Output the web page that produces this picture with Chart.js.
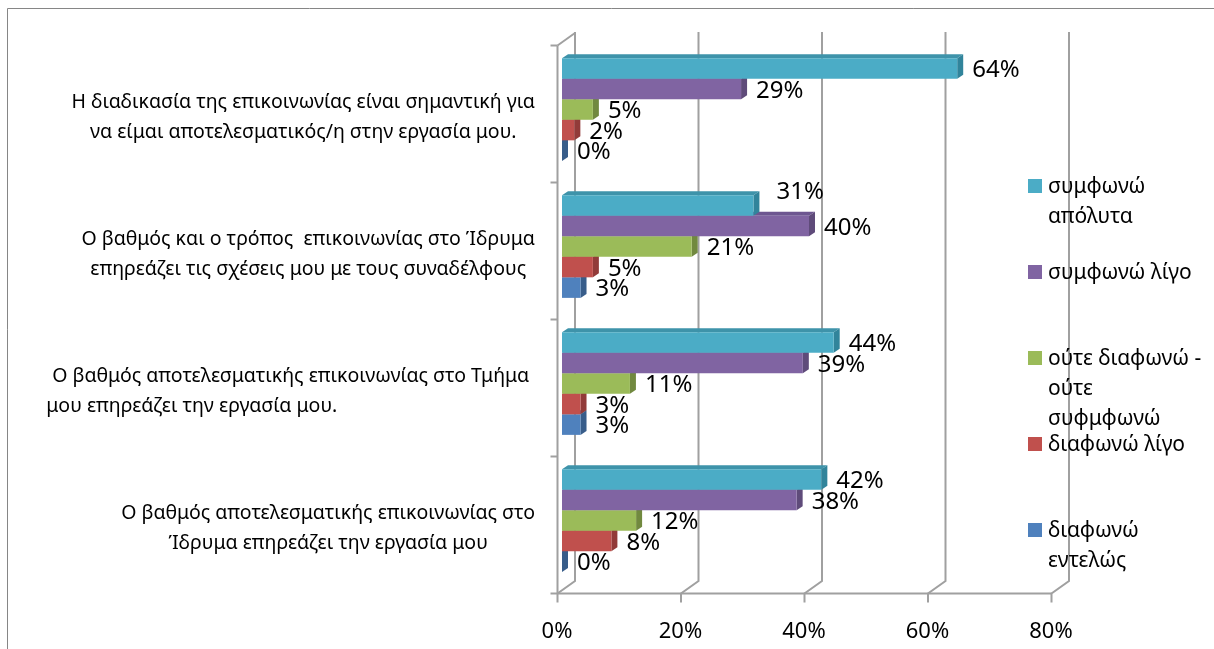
<!DOCTYPE html>
<html>
<head>
<meta charset="utf-8">
<script src="https://cdn.jsdelivr.net/npm/chart.js@4.4.1/dist/chart.umd.min.js"></script>
<style>
  body { margin: 0; background: #fff; }
  canvas { display: block; }
</style>
</head>
<body>
<canvas id="chart" width="1214" height="649"></canvas>
<script>
// statements, top to bottom (each one wraps onto two lines)
let categories = [
    ['Η διαδικασία της επικοινωνίας είναι σημαντική για', 'να είμαι αποτελεσματικός/η στην εργασία μου.'],
    ['Ο βαθμός και ο τρόπος  επικοινωνίας στο Ίδρυμα', 'επηρεάζει τις σχέσεις μου με τους συναδέλφους'],
    ['Ο βαθμός αποτελεσματικής επικοινωνίας στο Τμήμα', 'μου επηρεάζει την εργασία μου.                                       '],
    ['Ο βαθμός αποτελεσματικής επικοινωνίας στο', 'Ίδρυμα επηρεάζει την εργασία μου']
]
// answer options, as they wrap in the legend
let seriesNames = [
    ['συμφωνώ', 'απόλυτα'],
    ['συμφωνώ λίγο'],
    ['ούτε διαφωνώ -', 'ούτε', 'συφμφωνώ'],
    ['διαφωνώ λίγο'],
    ['διαφωνώ', 'εντελώς']
]

// answers in percent, one value per statement
let fullyAgree = [64, 31, 44, 42]
let slightlyAgree = [29, 40, 39, 38]
let neutral = [5, 21, 11, 12]
let slightlyDisagree = [2, 5, 3, 8]
let fullyDisagree = [0, 3, 3, 0]

let xTicks = ['0%', '20%', '40%', '60%', '80%']

// front, top and side colours of the boxes
let frontColors = ['#4BACC6', '#8064A2', '#9BBB59', '#C0504D', '#4F81BD']
let topColors = ['#3E93AA', '#6D5690', '#86A44A', '#A94542', '#4371A8']
let sideColors = ['#31849B', '#5F4B7A', '#71893F', '#923B39', '#385D8A']

const FONT = '"Noto Sans", sans-serif'
const DX = 6, DY = 4           // bar depth
const GRID = '#A0A0A0'

function poly(ctx, pts) {
    ctx.beginPath()
    ctx.moveTo(pts[0][0], pts[0][1])
    for (let i = 1; i < pts.length; i++) ctx.lineTo(pts[i][0], pts[i][1])
    ctx.closePath()
    ctx.fill()
}

function line(ctx, pts) {
    ctx.beginPath()
    ctx.moveTo(pts[0][0], pts[0][1])
    for (let i = 1; i < pts.length; i++) ctx.lineTo(pts[i][0], pts[i][1])
    ctx.stroke()
}

// walls, floor and the depth faces of every bar
const box3d = {
    id: 'box3d',
    beforeDatasetsDraw(chart) {
        let ctx = chart.ctx
        let xs = chart.scales.x
        let area = chart.chartArea
        let floorBack = area.bottom - 8
        let floorFront = area.bottom + 4.5
        let wallTop = 32
        ctx.save()
        ctx.strokeStyle = GRID
        ctx.lineWidth = 2

        // back wall gridlines with their floor slant
        xs.ticks.forEach((t) => {
            let px = xs.getPixelForValue(t.value)
            line(ctx, [[px + 13, wallTop], [px + 13, floorBack], [px - 4.5, floorFront], [px - 4.5, floorFront + 9]])
        })
        // front edge of the floor
        line(ctx, [[xs.getPixelForValue(xs.min) - 4.5, floorFront], [xs.getPixelForValue(xs.max) - 4.5, floorFront]])

        // side wall front edge, with ticks between statements
        let x0 = xs.getPixelForValue(xs.min) - 4.5
        let band = (area.bottom - area.top) / categories.length
        line(ctx, [[x0, area.top + 4.5], [x0, floorFront]])
        for (let i = 0; i <= categories.length; i++) {
            let y = area.top + 4.5 + i * band
            line(ctx, [[x0 - 7, y], [x0, y]])
        }
        line(ctx, [[x0, area.top + 4.5], [x0 + 17.5, wallTop + 1]])

        // top and right faces, lowest series first so upper bars cover them
        for (let d = chart.data.datasets.length - 1; d >= 0; d--) {
            chart.getDatasetMeta(d).data.forEach((bar) => {
                let top = bar.y - bar.height / 2
                let bottom = bar.y + bar.height / 2
                ctx.fillStyle = topColors[d]
                poly(ctx, [[bar.base, top], [bar.x, top], [bar.x + DX, top - DY], [bar.base + DX, top - DY]])
                ctx.fillStyle = sideColors[d]
                poly(ctx, [[bar.x, top], [bar.x + DX, top - DY], [bar.x + DX, bottom - DY], [bar.x, bottom]])
            })
        }
        ctx.restore()
    }
}

// percentage next to each bar
const valueLabels = {
    id: 'valueLabels',
    afterDatasetsDraw(chart) {
        let ctx = chart.ctx
        let sets = chart.data.datasets
        ctx.save()
        ctx.font = '24px ' + FONT
        ctx.fillStyle = '#000'
        ctx.textAlign = 'left'
        ctx.textBaseline = 'middle'
        sets.forEach((ds, d) => {
            chart.getDatasetMeta(d).data.forEach((bar, i) => {
                let v = ds.data[i]
                let x = bar.x + 15
                let y = bar.y + 2
                // move the label up when the bar below is longer
                if (d < sets.length - 1 && sets[d + 1].data[i] > v) {
                    x += 8
                    y -= 15
                }
                ctx.fillText(v + '%', x, y)
            })
        })
        ctx.restore()
    }
}

// statement texts on the left and the legend on the right
const sideTexts = {
    id: 'sideTexts',
    afterDraw(chart) {
        let ctx = chart.ctx
        let ys = chart.scales.y
        ctx.save()
        ctx.fillStyle = '#000'
        ctx.textBaseline = 'middle'
        ctx.textAlign = 'center'
        ctx.font = '19.5px ' + FONT
        let right = 535
        categories.forEach((lines, i) => {
            let w = Math.max(...lines.map((l) => ctx.measureText(l).width))
            let cy = ys.getPixelForValue(i) + 7.5
            lines.forEach((l, k) => {
                ctx.fillText(l, right - w / 2, cy + (k - (lines.length - 1) / 2) * 30)
            })
        })

        ctx.textAlign = 'left'
        ctx.font = '21px ' + FONT
        seriesNames.forEach((lines, i) => {
            let top = 179 + i * 86
            ctx.fillStyle = frontColors[i]
            ctx.fillRect(1028, top, 14, 14)
            ctx.fillStyle = '#000'
            lines.forEach((l, k) => {
                ctx.fillText(l, 1048, top + 8 + k * 30)
            })
        })

        // frame of the chart
        ctx.strokeStyle = '#868686'
        ctx.lineWidth = 1
        ctx.beginPath()
        ctx.moveTo(7.5, 700)
        ctx.lineTo(7.5, 8.5)
        ctx.lineTo(1300, 8.5)
        ctx.stroke()
        ctx.restore()
    }
}

let values = [fullyAgree, slightlyAgree, neutral, slightlyDisagree, fullyDisagree]

new Chart(document.getElementById('chart'), {
    type: 'bar',
    data: {
        labels: categories,
        datasets: values.map((v, i) => ({
            label: seriesNames[i].join(' '),
            data: v,
            backgroundColor: frontColors[i],
            borderWidth: 0
        }))
    },
    options: {
        indexAxis: 'y',
        responsive: false,
        animation: false,
        categoryPercentage: 0.75,
        barPercentage: 1,
        layout: {
            padding: {left: 562, right: 158, top: 41, bottom: 0}
        },
        scales: {
            x: {
                min: 0,
                max: 80,
                grid: {display: false, drawTicks: false},
                border: {display: false},
                ticks: {
                    stepSize: 20,
                    padding: 30,
                    labelOffset: -5,
                    color: '#000',
                    font: {family: FONT, size: 22},
                    callback: (v, i) => xTicks[i]
                },
                afterFit: (scale) => { scale.height = 60 }
            },
            y: {
                display: false
            }
        },
        plugins: {
            legend: {display: false},
            tooltip: {enabled: false}
        }
    },
    plugins: [box3d, valueLabels, sideTexts]
})
</script>
</body>
</html>
